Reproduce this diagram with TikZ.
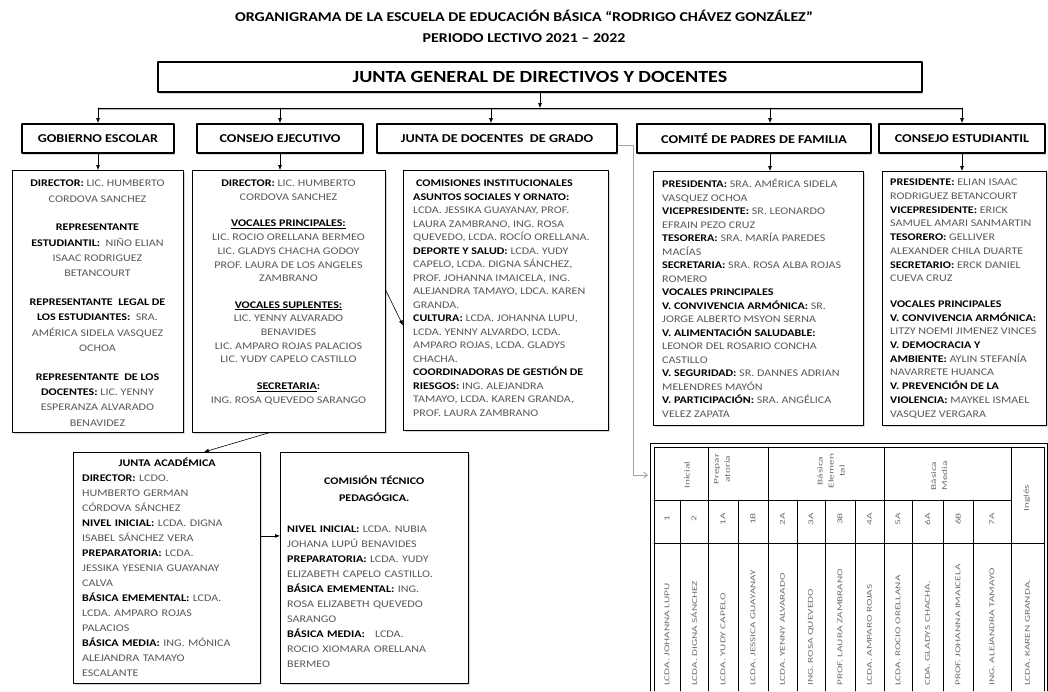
\documentclass[tikz,border=0pt]{standalone}
\usepackage{fontspec}
\setmainfont{Carlito}[FakeStretch=1.18]
\newfontfamily\tabfont{Carlito}[FakeStretch=1.5]
\usetikzlibrary{arrows.meta,shadows}
\definecolor{txtgris}{RGB}{88,88,88}
\definecolor{tabgris}{RGB}{110,110,110}
\definecolor{azulcon}{RGB}{143,168,208}
\newcommand{\etq}[1]{\textbf{\color{black}#1}}
\tikzset{
  caja/.style={draw, line width=0.8pt, fill=white, inner sep=0pt,
    drop shadow={shadow xshift=1.2pt, shadow yshift=-1.8pt, fill=black!30}},
  cajaT/.style={caja, line width=1.9pt},
  nivel/.style={cajaT, minimum height=29pt, font=\bfseries\fontsize{12}{14}\selectfont},
  texto/.style={inner sep=0pt, color=txtgris},
  flecha/.style={-{Latex[length=5pt,width=4pt]}, line width=0.6pt},
  conector/.style={draw=azulcon, line width=0.9pt, -{Straight Barb[length=3.5pt,width=6pt]}},
  tabtxt/.style={inner sep=0pt, rotate=90, color=tabgris, font=\tabfont\fontsize{7.5}{11}\selectfont}
}
\begin{document}
\begin{tikzpicture}[x=1pt, y=-1pt, line cap=round, line join=round]
\useasboundingbox (0,0) rectangle (1048,691);
\node[font=\bfseries\fontsize{13.5}{16}\selectfont] (tit1) at (524,16) {ORGANIGRAMA DE LA ESCUELA DE EDUCACIÓN BÁSICA “RODRIGO CHÁVEZ GONZÁLEZ”};
\node[font=\bfseries\fontsize{13.5}{16}\selectfont] (tit2) at (524,38) {PERIODO LECTIVO 2021 – 2022};
\node[cajaT, minimum width=764pt, minimum height=30pt, font=\bfseries\fontsize{17}{18}\selectfont] (jgen) at (540,77) {JUNTA GENERAL DE DIRECTIVOS Y DOCENTES};
\foreach \n/\x/\w/\t in {gob/98/152/GOBIERNO ESCOLAR, cons/280/166/CONSEJO EJECUTIVO, jdoc/497/240/JUNTA DE DOCENTES\ \ DE GRADO, com/754/234/COMITÉ DE PADRES DE FAMILIA, est/962/166/CONSEJO ESTUDIANTIL}
  \node[nivel, minimum width=\w pt] (\n) at (\x,138.5) {\t};
\coordinate (bus0) at (540,108);
\coordinate (busw) at (98,108);
\coordinate (buse) at (962,108);
\draw[black!30, line width=1pt] ([yshift=-1.8pt]busw) -- ([yshift=-1.8pt]buse);
\draw[line width=0.7pt] (busw) -- (buse);
\draw[flecha] (jgen.south) -- (bus0);
\foreach \n/\x in {gob/98, cons/280, jdoc/491, com/770, est/962}{
  \coordinate (b\n) at (\x,108);
  \draw[flecha] (b\n) -- (b\n |- \n.north);
}
% cajas de contenido
\node[caja, anchor=north west, minimum width=171pt, minimum height=262pt] (gobc) at (12,170) {};
\node[caja, anchor=north west, minimum width=193pt, minimum height=262pt] (consc) at (192,170) {};
\node[caja, anchor=north west, minimum width=205pt, minimum height=260pt] (jdocc) at (403,170) {};
\node[caja, anchor=north west, minimum width=210pt, minimum height=254pt] (comc) at (653,171) {};
\node[caja, anchor=north west, minimum width=164pt, minimum height=254pt] (estc) at (882,171) {};
\node[caja, anchor=north west, minimum width=187pt, minimum height=231pt] (jacad) at (73,452) {};
\node[caja, anchor=north west, minimum width=188pt, minimum height=231pt] (comis) at (280,452) {};
\draw[flecha] (gob.south) -- (gob.south |- gobc.north);
\draw[flecha] (cons.south) -- (cons.south |- consc.north);
\draw[flecha] ([xshift=16pt]com.south) -- ([xshift=16pt]com.south |- comc.north);
\draw[flecha] (est.south) -- (est.south |- estc.north);
\draw[flecha] ([xshift=-20pt]consc.south) -- ([xshift=37pt]jacad.north);
\draw[flecha] ([yshift=11pt]consc.east) -- ([yshift=-25pt]jdocc.west);
\draw[flecha] ([yshift=32pt]jacad.east) -- ([yshift=32pt]comis.west);
% textos
\node[texto, anchor=north, align=center, font=\fontsize{10.2}{15.3}\selectfont] (gobt) at (97.5,180) {%
\etq{DIRECTOR:} LIC. HUMBERTO\\
CORDOVA SANCHEZ\\[13.5pt]
\etq{REPRESENTANTE}\\
\etq{ESTUDIANTIL:}\ \ NIÑO ELIAN\\
ISAAC RODRIGUEZ\\
BETANCOURT\\[13.5pt]
\etq{REPRESENTANTE\ \ LEGAL DE}\\
\etq{LOS ESTUDIANTES:}\ \ SRA.\\
AMÉRICA SIDELA VASQUEZ\\
OCHOA\\[13.5pt]
\etq{REPRESENTANTE\ \ DE LOS}\\
\etq{DOCENTES:} LIC. YENNY\\
ESPERANZA ALVARADO\\
BENAVIDEZ};
\node[texto, anchor=north, align=center, font=\fontsize{10.2}{13.7}\selectfont] (const) at (288.5,180) {%
\etq{DIRECTOR:} LIC. HUMBERTO\\
CORDOVA SANCHEZ\\[12.7pt]
\etq{\underline{VOCALES PRINCIPALES:}}\\
LIC. ROCIO ORELLANA BERMEO\\
LIC. GLADYS CHACHA GODOY\\
PROF. LAURA DE LOS ANGELES\\
ZAMBRANO\\[12.7pt]
\etq{\underline{VOCALES SUPLENTES:}}\\
LIC. YENNY ALVARADO\\
BENAVIDES\\
LIC. AMPARO ROJAS PALACIOS\\
LIC. YUDY CAPELO CASTILLO\\[12.7pt]
\etq{\underline{SECRETARIA}:}\\
ING. ROSA QUEVEDO SARANGO};
\node[texto, anchor=north west, align=left, font=\fontsize{10.2}{13.5}\selectfont] (jdoct) at (413,180) {%
\etq{\hspace{3pt}COMISIONES INSTITUCIONALES}\\
\etq{ASUNTOS SOCIALES Y ORNATO:}\\
LCDA. JESSIKA GUAYANAY, PROF.\\
LAURA ZAMBRANO, ING. ROSA\\
QUEVEDO, LCDA. ROCÍO ORELLANA.\\
\etq{DEPORTE Y SALUD:} LCDA. YUDY\\
CAPELO, LCDA. DIGNA SÁNCHEZ,\\
PROF. JOHANNA IMAICELA, ING.\\
ALEJANDRA TAMAYO, LDCA. KAREN\\
GRANDA.\\
\etq{CULTURA:} LCDA. JOHANNA LUPU,\\
LCDA. YENNY ALVARDO, LCDA.\\
AMPARO ROJAS, LCDA. GLADYS\\
CHACHA.\\
\etq{COORDINADORAS DE GESTIÓN DE}\\
\etq{RIESGOS:} ING. ALEJANDRA\\
TAMAYO, LCDA. KAREN GRANDA,\\
PROF. LAURA ZAMBRANO};
\node[texto, anchor=north west, align=left, font=\fontsize{10.2}{13.5}\selectfont] (comt) at (662,179) {%
\etq{PRESIDENTA:} SRA. AMÉRICA SIDELA\\
VASQUEZ OCHOA\\
\etq{VICEPRESIDENTE:} SR. LEONARDO\\
EFRAIN PEZO CRUZ\\
\etq{TESORERA:} SRA. MARÍA PAREDES\\
MACÍAS\\
\etq{SECRETARIA:} SRA. ROSA ALBA ROJAS\\
ROMERO\\
\etq{VOCALES PRINCIPALES}\\
\etq{V. CONVIVENCIA ARMÓNICA:} SR.\\
JORGE ALBERTO MSYON SERNA\\
\etq{V. ALIMENTACIÓN SALUDABLE:}\\
LEONOR DEL ROSARIO CONCHA\\
CASTILLO\\
\etq{V. SEGURIDAD:} SR. DANNES ADRIAN\\
MELENDRES MAYÓN\\
\etq{V. PARTICIPACIÓN:} SRA. ANGÉLICA\\
VELEZ ZAPATA};
\node[texto, anchor=north west, align=left, font=\fontsize{10.2}{13.7}\selectfont] (estt) at (890,179) {%
\etq{PRESIDENTE:} ELIAN ISAAC\\
RODRIGUEZ BETANCOURT\\
\etq{VICEPRESIDENTE:} ERICK\\
SAMUEL AMARI SANMARTIN\\
\etq{TESORERO:} GELLIVER\\
ALEXANDER CHILA DUARTE\\
\etq{SECRETARIO:} ERCK DANIEL\\
CUEVA CRUZ\\[12pt]
\etq{VOCALES PRINCIPALES}\\
\etq{V. CONVIVENCIA ARMÓNICA:}\\
LITZY NOEMI JIMENEZ VINCES\\
\etq{V. DEMOCRACIA Y}\\
\etq{AMBIENTE:} AYLIN STEFANÍA\\
NAVARRETE HUANCA\\
\etq{V. PREVENCIÓN DE LA}\\
\etq{VIOLENCIA:} MAYKEL ISMAEL\\
VASQUEZ VERGARA};
\node[texto, anchor=north west, align=left, text width=170pt, font=\fontsize{10.2}{15}\selectfont] (jacadt) at (82,458) {%
\makebox[\linewidth]{\etq{JUNTA ACADÉMICA}}\\
\etq{DIRECTOR:} LCDO.\\
HUMBERTO GERMAN\\
CÓRDOVA SÁNCHEZ\\
\etq{NIVEL INICIAL:} LCDA. DIGNA\\
ISABEL SÁNCHEZ VERA\\
\etq{PREPARATORIA:} LCDA.\\
JESSIKA YESENIA GUAYANAY\\
CALVA\\
\etq{BÁSICA EMEMENTAL:} LCDA.\\
LCDA. AMPARO ROJAS\\
PALACIOS\\
\etq{BÁSICA MEDIA:} ING. MÓNICA\\
ALEJANDRA TAMAYO\\
ESCALANTE};
\node[texto, anchor=north west, align=left, text width=174pt, font=\fontsize{10.2}{15}\selectfont] (comist) at (287,476) {%
\makebox[\linewidth]{\etq{COMISIÓN TÉCNICO}}\\[2pt]
\makebox[\linewidth]{\etq{PEDAGÓGICA.}}\\[16pt]
\etq{NIVEL INICIAL:} LCDA. NUBIA\\
JOHANA LUPÚ BENAVIDES\\
\etq{PREPARATORIA:} LCDA. YUDY\\
ELIZABETH CAPELO CASTILLO.\\
\etq{BÁSICA EMEMENTAL:} ING.\\
ROSA ELIZABETH QUEVEDO\\
SARANGO\\
\etq{BÁSICA MEDIA:}\ \ \ LCDA.\\
ROCIO XIOMARA ORELLANA\\
BERMEO};
% tabla de docentes de grado
\coordinate (tabent) at (648,475);
\draw[conector] ([yshift=-6.5pt]jdoc.east) -| ([xshift=-15pt]tabent) -- (tabent);
\draw[line width=0.6pt] (650,691) -- (650,443) -- (1047,443) -- (1047,691);
\draw[line width=0.6pt] (654,691) -- (654,447) -- (1044,447) -- (1044,691);
\draw[line width=0.6pt] (654,500) -- (1011,500) (654,543) -- (1044,543);
\foreach \x in {708,768,884,1011} \draw[line width=0.6pt] (\x,447) -- (\x,691);
\foreach \x in {680,738,797,825,855,912,943,973} \draw[line width=0.6pt] (\x,500) -- (\x,691);
\node[tabtxt] (hini) at (687,475) {Inicial};
\node[tabtxt, align=center] (hpre) at (722,469) {Prepar\\atoria};
\node[tabtxt, align=center] (hele) at (831,471) {Básica\\Elemen\\tal};
\node[tabtxt, align=center] (hmed) at (939,476) {Básica\\Media};
\node[tabtxt] (hing) at (1027,498) {Inglés};
\foreach \x/\k/\t in {667/1/LCDA. JOHANNA LUPU, 694/2/LCDA. DIGNA SÁNCHEZ, 723/1A/LCDA. YUDY CAPELO, 753/1B/LCDA. JESSICA GUAYANAY, 782.5/2A/LCDA. YENNY ALVARADO, 811/3A/ING. ROSA QUEVEDO, 840/3B/PROF. LAURA ZAMBRANO, 869.5/4A/LCDA. AMPARO ROJAS, 898/5A/LCDA. ROCIO ORELLANA, 927.5/6A/CDA. GLADYS CHACHA., 958/6B/PROF. JOHANNA IMAICELA, 992/7A/ING. ALEJANDRA TAMAYO}{
  \node[tabtxt] (num\k) at (\x,519) {\k};
  \node[tabtxt, anchor=west] (doc\k) at (\x,686) {\t};
}
\node[tabtxt, anchor=west] (docing) at (1027.5,686) {LCDA. KAREN GRANDA.};
\end{tikzpicture}
\end{document}
